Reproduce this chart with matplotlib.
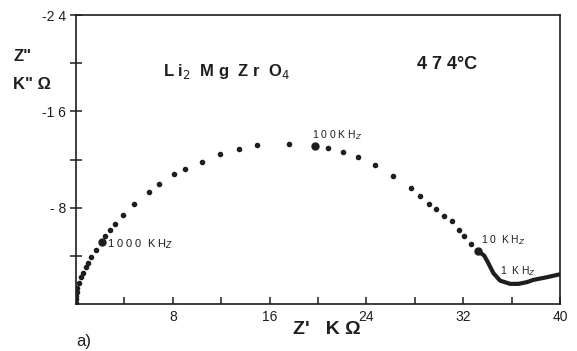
import matplotlib.pyplot as plt


# -------------------------------------------------
# DATA
# -------------------------------------------------

# high-frequency arc, one dot per measured frequency
arc_re = [0.02, 0.03, 0.04, 0.06, 0.11, 0.25, 0.44, 0.60, 0.83, 1.02,
          1.26, 1.65, 2.12, 2.42, 2.79, 3.25, 3.88, 4.82, 6.01, 6.88,
          8.07, 9.01, 10.41, 11.88, 13.51, 14.93, 17.63, 19.78, 20.83,
          22.09, 23.31, 24.69, 26.16, 27.69, 28.43, 29.15, 29.75, 30.39,
          31.07, 31.65, 32.07, 32.67, 33.20]
arc_im = [-0.10, -0.40, -0.70, -1.00, -1.31, -1.73, -2.28, -2.61, -3.11,
          -3.44, -3.89, -4.50, -5.17, -5.61, -6.11, -6.64, -7.36, -8.28,
          -9.28, -10.00, -10.78, -11.23, -11.83, -12.48, -12.88, -13.19,
          -13.33, -13.11, -12.92, -12.61, -12.17, -11.56, -10.65, -9.61,
          -9.00, -8.33, -7.92, -7.28, -6.86, -6.11, -5.61, -5.00, -4.44]

# low-frequency tail, dots so dense they form a thick line
tail_re = [33.20, 33.74, 34.07, 34.49, 35.04, 35.87, 36.55, 37.25,
           37.79, 38.90, 40.00]
tail_im = [-4.44, -4.00, -3.39, -2.56, -1.94, -1.67, -1.67, -1.81,
           -2.00, -2.22, -2.47]

# marked frequencies (the larger dots)
mark_re = [2.12, 19.78, 33.20]
mark_im = [-5.17, -13.11, -4.44]

x_major = [8, 16, 24, 32, 40]
x_minor = [4, 12, 20, 28, 36]
y_major = [-24, -16, -8]
y_major_labels = ["-2 4", "-1 6", "- 8"]
y_minor = [-20, -12, -4]


# -------------------------------------------------
# FIGURE
# -------------------------------------------------

ink = "#1e1e1e"
plt.rcParams["font.family"] = ["Liberation Sans", "DejaVu Sans"]

fig = plt.figure(figsize=(5.77, 3.51), dpi=100)
ax = fig.add_axes([0.1317, 0.134, 0.839, 0.823])

ax.plot(arc_re, arc_im, linestyle="none", marker="o",
        markersize=3.0, color=ink)
ax.plot(tail_re, tail_im, color=ink, linewidth=3.0,
        solid_capstyle="round")
ax.plot(mark_re, mark_im, linestyle="none", marker="o",
        markersize=5.0, color=ink)

ax.set_xlim(0, 40)
ax.set_ylim(0, -24)

ax.set_xticks(x_major)
ax.set_xticks(x_minor, minor=True)
ax.set_yticks(y_major)
ax.set_yticklabels(y_major_labels)
ax.set_yticks(y_minor, minor=True)

ax.tick_params(axis="x", which="both", direction="in", length=5,
               width=1.1, color=ink, labelsize=10, labelcolor=ink, pad=4)
ax.tick_params(axis="y", which="both", direction="inout", length=8,
               width=1.1, color=ink, labelsize=10, labelcolor=ink, pad=3)

for spine in ax.spines.values():
    spine.set_linewidth(1.2)
    spine.set_color(ink)


# -------------------------------------------------
# TEXT
# -------------------------------------------------

# frequency labels
ax.text(2.6, -5.0, "1 0 0 0  K H$_Z$", fontsize=8, color=ink,
        va="center", ha="left")
ax.text(19.5, -14.0, "1 0 0 K H$_Z$", fontsize=7.5, color=ink,
        va="center", ha="left")
ax.text(33.5, -5.3, "1 0  K H$_Z$", fontsize=7.5, color=ink,
        va="center", ha="left")
ax.text(35.0, -2.7, "1  K H$_Z$", fontsize=7.5, color=ink,
        va="center", ha="left")

# compound and temperature
ax.text(7.2, -19.3, "L i$_2$  M g  Z r  O$_4$", fontsize=12, color=ink,
        va="center", ha="left", fontweight="bold")
ax.text(28.2, -19.9, "4 7 4°C", fontsize=13, color=ink,
        va="center", ha="left", fontweight="bold")

# axis labels
fig.text(0.024, 0.840, "Z\"", fontsize=12, color=ink, va="center",
         fontweight="bold")
fig.text(0.022, 0.758, "K\" Ω", fontsize=12, color=ink, va="center",
         fontweight="bold")
fig.text(0.508, 0.060, "Z'   K Ω", fontsize=14, color=ink, va="center",
         fontweight="bold")
fig.text(0.133, 0.026, "a)", fontsize=12, color=ink, va="center")

fig.savefig("out.png", dpi=100)
